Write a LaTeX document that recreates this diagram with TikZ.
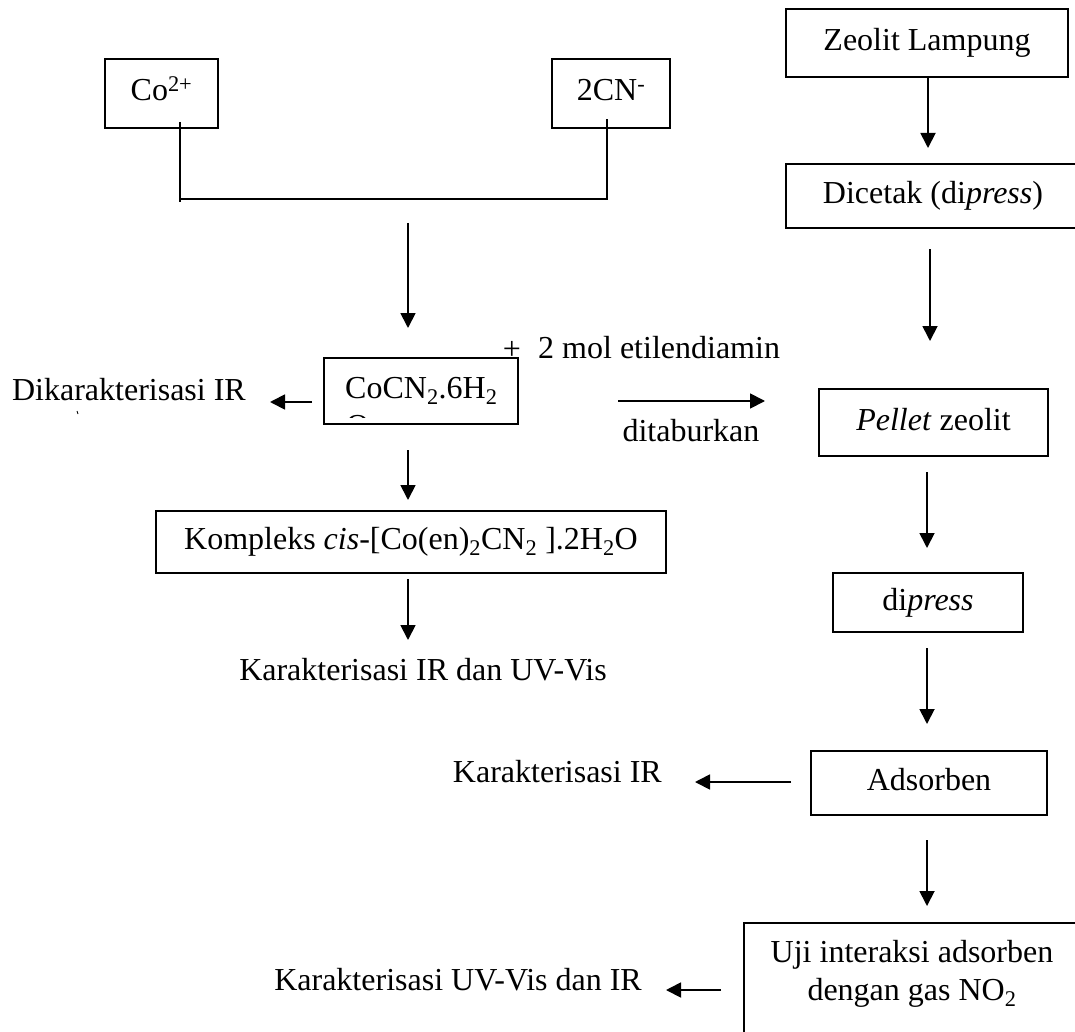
\documentclass[tikz,border=0pt]{standalone}
\usepackage{fontspec}
\setmainfont{Liberation Serif}
\usetikzlibrary{arrows.meta}
\newcommand{\tsub}[1]{\textsubscript{#1}}
\newcommand{\tsup}[1]{\textsuperscript{#1}}
\begin{document}
\begin{tikzpicture}[x=1pt,y=-1pt,
  every node/.style={font=\fontsize{32}{38}\selectfont, inner sep=0pt},
  box/.style={draw, line width=1.6pt, text height=22pt, text depth=7pt},
  arr/.style={line width=1.8pt, -{Triangle[length=15pt,width=15pt]}},
  lin/.style={line width=1.7pt}]
\fill[white] (0,0) rectangle (1075,1032);
\clip (0,0) rectangle (1075,1032);
% ---------- left column ----------
\node[box, minimum width=113pt, minimum height=69pt] (co) at (161.5,93.5) {Co\tsup{2+}};
\node[box, minimum width=118pt, minimum height=69pt] (cn) at (611,93.5) {2CN\tsup{-}};
\coordinate (j1) at (180,199);
\coordinate (j2) at (607,199);
\draw[lin] ([xshift=18.5pt,yshift=7pt]co.south) -- ([yshift=-3pt]j1);
\draw[lin] (j1) -- (j2) -- ([xshift=-4pt,yshift=10pt]cn.south);
\coordinate (a1s) at (408,223);
\coordinate (a1e) at (408,328);
\draw[arr] (a1s) -- (a1e);
\node[box, minimum width=194pt, minimum height=66pt] (coc) at (421,391) {};
\node[anchor=base west] (coct) at (345,398) {CoCN\tsub{2}.6H\tsub{2}};
\begin{scope}
  \clip (330,365) rectangle (515,417);
  \node[anchor=base west] (coco) at (346,436) {O};
\end{scope}
\node[anchor=base] (plus) at (512,359) {+};
\node[anchor=base west] (eti) at (538,358) {2 mol etilendiamin};
\coordinate (d1s) at (312,402);
\coordinate (d1e) at (270,402);
\draw[arr] (d1s) -- (d1e);
\node[anchor=base east] (dik) at (246,400) {Dikarakterisasi IR};
\draw[line width=0.8pt] (77,411) -- (78,414);
\coordinate (t1s) at (618,401);
\coordinate (t1e) at (765,401);
\draw[arr] (t1s) -- (t1e);
\node[anchor=base] (tab) at (691,441) {ditaburkan};
\coordinate (a2s) at (408,450);
\coordinate (a2e) at (408,500);
\draw[arr] (a2s) -- (a2e);
\node[box, minimum width=510pt, minimum height=62pt] (kom) at (411,542) {Kompleks \textit{cis}-[Co(en)\tsub{2}CN\tsub{2} ].2H\tsub{2}O};
\coordinate (a3s) at (408,579);
\coordinate (a3e) at (408,640);
\draw[arr] (a3s) -- (a3e);
\node[anchor=base] (kar1) at (423,680) {Karakterisasi IR dan UV-Vis};
% ---------- right column ----------
\node[box, minimum width=282pt, minimum height=68pt] (zeo) at (927,43) {Zeolit Lampung};
\coordinate (b1e) at (928,148);
\draw[arr] (zeo.south -| b1e) -- (b1e);
\node[box, minimum width=294pt, minimum height=64pt] (dic) at (933,196) {Dicetak (di\textit{press})};
\coordinate (b2s) at (930,249);
\coordinate (b2e) at (930,341);
\draw[arr] (b2s) -- (b2e);
\node[box, minimum width=229pt, minimum height=67pt] (pel) at (933.5,422.5) {\textit{Pellet} zeolit};
\coordinate (b3s) at (927,472);
\coordinate (b3e) at (927,548);
\draw[arr] (b3s) -- (b3e);
\node[box, minimum width=190pt, minimum height=59pt] (dip) at (928,602.5) {di\textit{press}};
\coordinate (b4s) at (927,648);
\coordinate (b4e) at (927,724);
\draw[arr] (b4s) -- (b4e);
\node[box, minimum width=236pt, minimum height=64pt] (ads) at (929,783) {Adsorben};
\coordinate (c1s) at (791,782);
\coordinate (c1e) at (695,782);
\draw[arr] (c1s) -- (c1e);
\node[anchor=base east] (kar2) at (662,782) {Karakterisasi IR};
\coordinate (b5s) at (927,840);
\coordinate (b5e) at (927,906);
\draw[arr] (b5s) -- (b5e);
\node[draw, line width=1.6pt, minimum width=336pt, minimum height=117pt] (uji) at (912,981.5) {};
\node[anchor=base] (uji1) at (912,962) {Uji interaksi adsorben};
\node[anchor=base] (uji2) at (912,1000) {dengan gas NO\tsub{2}};
\coordinate (c2s) at (721,990);
\coordinate (c2e) at (666,990);
\draw[arr] (c2s) -- (c2e);
\node[anchor=base east] (kar3) at (642,990) {Karakterisasi UV-Vis dan IR};
\end{tikzpicture}
\end{document}
